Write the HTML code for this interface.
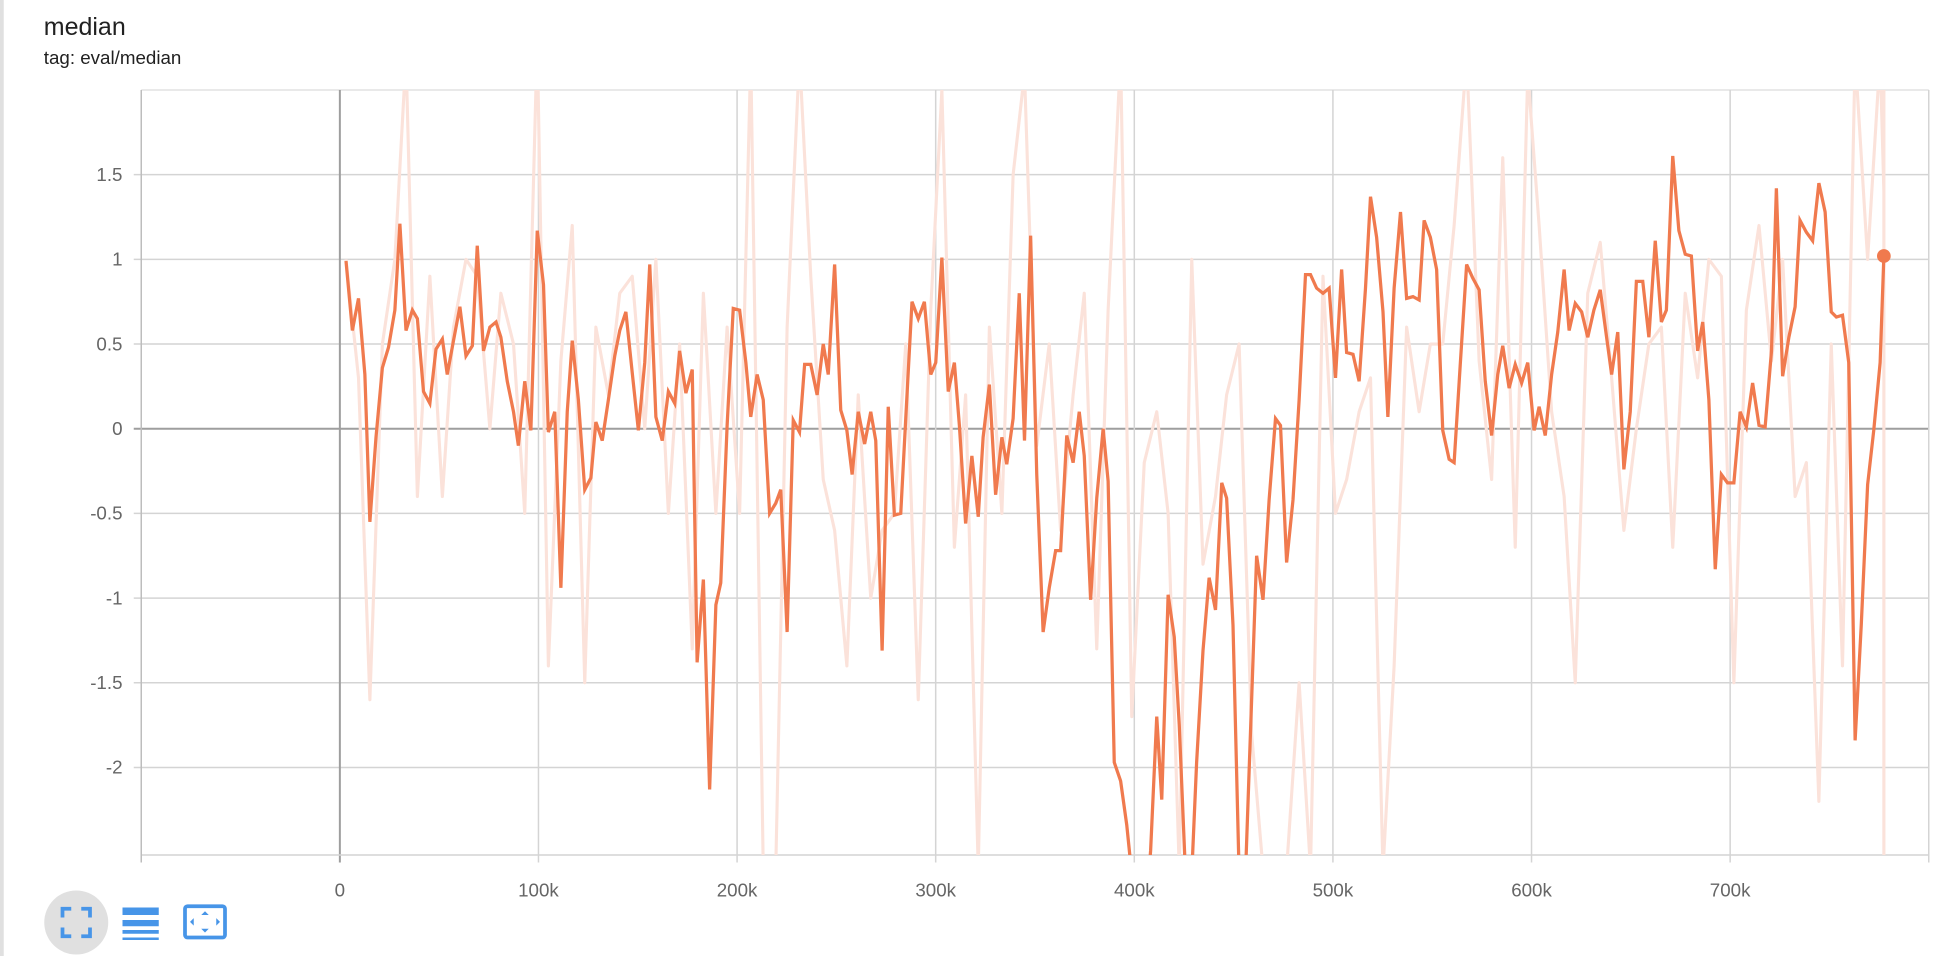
<!DOCTYPE html>
<html><head><meta charset="utf-8"><style>
html,body{margin:0;padding:0;background:#fff;width:1936px;height:956px;overflow:hidden}
svg{display:block}
text{font-family:"Liberation Sans",sans-serif}
</style></head><body>
<svg id="chart" width="1936" height="956" viewBox="0 0 1548.8 764.8">
<rect x="0" y="0" width="3" height="764.8" fill="#e0e0e0"/>
<text x="35" y="28" font-size="20" fill="#212121">median</text>
<text x="35" y="51" font-size="15" fill="#212121">tag: eval/median</text>
<g id="grid"></g>
<g id="axes"></g>
<defs><clipPath id="clip"><rect x="113" y="72" width="1430" height="612"/></clipPath></defs>
<g clip-path="url(#clip)" id="series"></g>
<g>
<circle cx="61" cy="738" r="25.6" fill="#e0e0e0"/>
<path d="M50,734 v-7 h7 M65,727 h7 v7 M72,742 v7 h-7 M57,749 h-7 v-7" fill="none" stroke="#4795e8" stroke-width="3"/>
</g>
<g fill="#4795e8">
<rect x="98" y="726" width="29" height="6"/><rect x="98" y="736" width="29" height="5"/><rect x="98" y="744" width="29" height="3"/><rect x="98" y="750" width="29" height="2"/>
</g>
<g>
<rect x="148" y="725" width="32" height="25" rx="2" fill="none" stroke="#4795e8" stroke-width="3"/>
<path d="M164,729 l-3,3 h6z M164,746 l-3,-3 h6z M152,737.5 l3,-3 v6z M176,737.5 l-3,-3 v6z" fill="#4795e8"/>
</g>
</svg>
<script>
const steps=[3.1,6.3,9.4,12.6,15.1,18.2,21.4,24.5,27.7,30.2,33.3,36.5,39.0,42.1,45.3,48.4,51.6,54.1,57.2,60.4,63.5,66.7,69.2,72.3,75.5,78.6,81.1,84.3,87.4,89.9,93.1,96.2,99.4,102.5,105.0,108.2,111.3,114.5,117.0,120.1,123.3,126.4,128.9,132.1,135.2,138.4,140.9,144.0,147.2,150.3,153.5,156.0,159.1,162.3,165.4,168.6,171.1,174.2,177.4,179.9,183.0,186.2,189.3,191.8,195.0,198.1,201.3,204.4,206.9,210.1,213.2,216.4,219.5,222.0,225.2,228.3,231.4,234.0,237.1,240.3,243.4,245.9,249.1,252.2,255.3,257.9,261.0,264.2,267.3,269.8,273.0,276.1,279.2,282.4,284.9,288.1,291.2,294.3,297.5,300.0,303.1,306.3,309.4,311.9,315.1,318.2,321.4,323.9,327.0,330.2,333.3,335.8,339.0,342.1,344.7,347.8,350.9,354.1,357.2,360.4,362.9,366.0,369.2,372.3,374.8,378.0,381.1,384.3,386.8,389.9,393.1,396.2,398.7,401.9,405.0,408.2,411.3,413.8,417.0,420.1,422.6,425.8,428.9,431.4,434.6,437.7,440.9,444.0,446.5,449.7,452.8,456.0,459.1,461.6,464.8,467.9,471.1,473.6,476.7,479.9,483.0,486.2,488.7,491.8,495.0,498.1,501.3,504.4,506.9,510.1,513.2,516.4,518.9,522.0,525.2,527.7,530.8,534.0,537.1,540.3,543.4,545.9,549.1,552.2,555.3,558.5,561.0,564.2,567.3,570.4,573.6,576.7,579.9,583.0,585.5,588.7,591.8,595.0,598.1,601.3,603.8,606.9,610.1,613.2,616.4,618.9,622.0,625.2,628.3,631.4,634.6,637.7,640.3,643.4,646.5,649.7,652.8,656.0,659.1,662.3,665.4,667.9,671.1,674.2,677.4,680.5,683.6,686.2,689.3,692.5,695.6,698.7,701.9,705.0,708.2,711.3,714.5,717.6,720.8,723.3,726.4,729.6,732.7,735.2,738.4,741.5,744.7,747.8,750.9,753.5,756.6,759.7,762.9,766.0,769.2,772.3,775.5,777.4];
const smoothed=[0.99,0.58,0.77,0.32,-0.55,-0.05,0.36,0.48,0.70,1.21,0.58,0.70,0.65,0.22,0.15,0.47,0.53,0.32,0.52,0.72,0.43,0.49,1.08,0.46,0.60,0.63,0.54,0.28,0.10,-0.10,0.28,-0.01,1.17,0.85,-0.02,0.10,-0.94,0.10,0.52,0.17,-0.36,-0.29,0.04,-0.07,0.17,0.43,0.58,0.69,0.33,-0.01,0.39,0.97,0.07,-0.07,0.22,0.15,0.46,0.21,0.35,-1.38,-0.89,-2.13,-1.04,-0.91,0.02,0.71,0.70,0.39,0.07,0.32,0.17,-0.50,-0.44,-0.36,-1.20,0.05,-0.02,0.38,0.38,0.20,0.50,0.32,0.97,0.11,-0.01,-0.27,0.10,-0.09,0.10,-0.07,-1.31,0.13,-0.51,-0.50,0.06,0.75,0.65,0.75,0.32,0.39,1.01,0.22,0.39,0.02,-0.56,-0.16,-0.52,-0.05,0.26,-0.39,-0.05,-0.21,0.06,0.80,-0.07,1.14,-0.27,-1.20,-0.94,-0.72,-0.72,-0.04,-0.20,0.10,-0.16,-1.01,-0.41,0.00,-0.31,-1.97,-2.08,-2.34,-2.63,-3.08,-3.0,-2.49,-1.70,-2.19,-0.98,-1.23,-1.75,-2.63,-2.63,-1.97,-1.31,-0.88,-1.07,-0.32,-0.41,-1.16,-2.63,-2.63,-1.60,-0.75,-1.01,-0.42,0.06,0.02,-0.79,-0.42,0.17,0.91,0.91,0.83,0.80,0.83,0.30,0.94,0.45,0.44,0.28,0.83,1.37,1.13,0.69,0.07,0.83,1.28,0.77,0.78,0.76,1.23,1.13,0.94,-0.01,-0.18,-0.20,0.39,0.97,0.89,0.82,0.28,-0.04,0.32,0.49,0.24,0.38,0.27,0.39,-0.01,0.13,-0.04,0.32,0.57,0.94,0.58,0.74,0.69,0.54,0.70,0.82,0.55,0.32,0.57,-0.24,0.10,0.87,0.87,0.54,1.11,0.63,0.70,1.61,1.17,1.03,1.02,0.46,0.63,0.17,-0.83,-0.27,-0.32,-0.32,0.10,0.01,0.27,0.02,0.01,0.46,1.42,0.31,0.54,0.72,1.23,1.16,1.11,1.45,1.28,0.69,0.66,0.67,0.39,-1.84,-1.16,-0.33,-0.01,0.39,1.02];
const raw=[1,0.3,-1.6,0.5,1,2.2,-0.4,0.9,-0.4,0.6,1,0.9,0,0.8,0.5,-0.5,2.3,-1.4,0.4,1.2,-1.5,0.6,0.2,0.8,0.9,0,1,-0.5,0.5,-1.3,0.8,-0.5,0.6,-0.5,2.2,-2.6,-2.6,0.6,2.2,0.9,-0.3,-0.6,-1.4,0.2,-1,-0.6,-0.5,0.5,-1.6,0.7,2,-0.7,0.2,-2.6,0.6,-0.5,1.5,2.1,-0.1,0.5,-0.6,0.2,0.8,-1.3,0.7,2.2,-1.7,-0.2,0.1,-0.5,-2.6,1,-0.8,-0.4,0.2,0.5,-1.8,-2.6,-2.6,-2.6,-1.5,-2.6,0.9,-0.5,-0.3,0.1,0.3,-2.6,-1.4,0.6,0.1,0.5,0.5,1.2,2.2,0.4,-0.3,1.6,-0.7,2.1,1.2,0.1,-0.4,-1.5,0.8,1.1,0.3,-0.6,0,0.5,0.6,-0.7,0.8,0.3,1,0.9,-1.5,0.7,1.2,0.4,1,-0.4,-0.2,-2.2,0.5,-1.4,2.2,1,2.2,1.4,-2.6,0.9,2.2];
const xTicks=[-100,0,100,200,300,400,500,600,700,800];
const xTickLabels=["","0","100k","200k","300k","400k","500k","600k","700k",""];
const yTicks=[1.5,1,0.5,0,-0.5,-1,-1.5,-2];
const yTickLabels=["1.5","1","0.5","0","-0.5","-1","-1.5","-2"];

const NS="http://www.w3.org/2000/svg";
const L=113,R=1543,T=72,B=684;
const xMin=-100,xMax=800,yMax=2.0,yMin=-2.517;
function sx(v){return L+(v-xMin)/(xMax-xMin)*(R-L);}
function sy(v){return T+(yMax-v)/(yMax-yMin)*(B-T);}
function mk(tag,attrs,parent){const e=document.createElementNS(NS,tag);for(const k in attrs)e.setAttribute(k,attrs[k]);parent.appendChild(e);return e;}
const grid=document.getElementById('grid'),axes=document.getElementById('axes'),series=document.getElementById('series');

mk('line',{x1:L,y1:T,x2:R,y2:T,stroke:'#dcdcdc','stroke-width':1},grid);
mk('line',{x1:R,y1:T,x2:R,y2:B+6,stroke:'#dcdcdc','stroke-width':1},grid);
yTicks.forEach((v,i)=>{
  const y=sy(v);
  const ln=mk('line',{x1:L-6,y1:y,x2:R,y2:y,stroke:v===0?'#9e9e9e':'#d4d4d4','stroke-width':v===0?1.6:1.2},grid);
  
  
  const t=mk('text',{x:L-15,y:y+5,'text-anchor':'end','font-size':15,fill:'#666'},axes);
  t.textContent=yTickLabels[i];
  
  
});
xTicks.forEach((v,i)=>{
  const x=sx(v);
  const ln=mk('line',{x1:x,y1:T,x2:x,y2:B+6,stroke:v===0?'#9e9e9e':'#d4d4d4','stroke-width':v===0?1.6:1.2},grid);
  
  
  if(xTickLabels[i]){
    const t=mk('text',{x:x,y:B+33,'text-anchor':'middle','font-size':15,fill:'#666'},axes);
    t.textContent=xTickLabels[i];
    
    
  }
});
mk('line',{x1:L,y1:B,x2:R,y2:B,stroke:'#d4d4d4','stroke-width':1.2},grid);
mk('line',{x1:L,y1:T,x2:L,y2:B+6,stroke:'#bdbdbd','stroke-width':1.2},grid);

let rp='';
raw.forEach((v,i)=>{const s=steps[Math.min(i*2,steps.length-1)];rp+=(i?'L':'M')+sx(s).toFixed(1)+','+sy(v).toFixed(1);});
const rawLine=mk('path',{d:rp,fill:'none',stroke:'#fbe2da','stroke-width':2.5,'stroke-linejoin':'round'},series);



const n=Math.min(steps.length,smoothed.length);
let sp='';
for(let i=0;i<n;i++){sp+=(i?'L':'M')+sx(steps[i]).toFixed(1)+','+sy(smoothed[i]).toFixed(1);}
const smLine=mk('path',{d:sp,fill:'none',stroke:'#f07a4e','stroke-width':2.6,'stroke-linejoin':'miter'},series);


const dot=mk('circle',{cx:sx(steps[n-1]),cy:sy(smoothed[n-1]),r:5.5,fill:'#f07a4e'},document.getElementById('chart'));


</script>
</body></html>
